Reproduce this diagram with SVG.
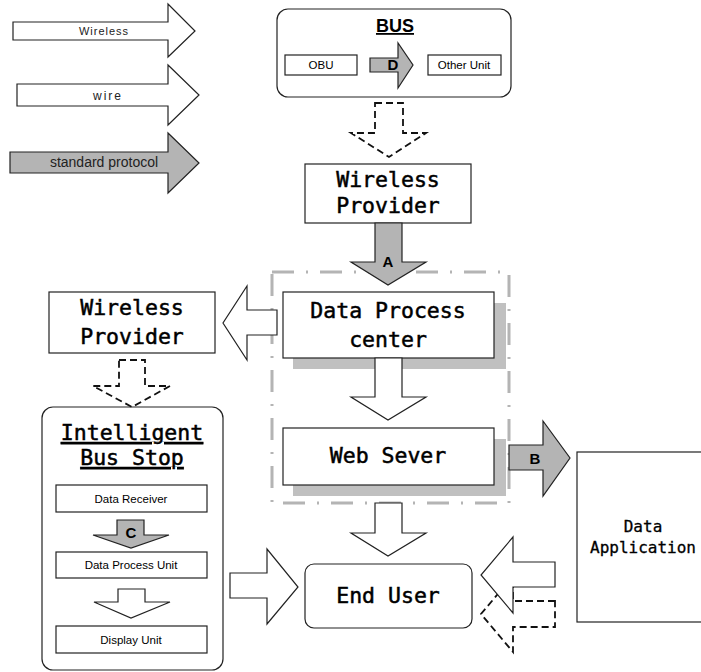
<svg xmlns="http://www.w3.org/2000/svg" width="701" height="672" viewBox="0 0 701 672">
<style>
.box{fill:#fff;stroke:#222;stroke-width:1.2}
.shadow{fill:#c0c0c0;stroke:none}
.arrow{fill:#fff;stroke:#222;stroke-width:1.2;stroke-linejoin:miter}
.garrow{fill:#b4b4b4;stroke:#222;stroke-width:1.2}
.darrow{fill:none;stroke:#111;stroke-width:1.8;stroke-dasharray:7 4}
.big{font-family:"DejaVu Sans Mono","Liberation Mono",monospace;font-size:21.5px;fill:#000;stroke:#000;stroke-width:0.5;text-anchor:middle}
.small{font-family:"Liberation Sans",Arial,sans-serif;font-size:11.5px;fill:#000;text-anchor:middle}
.letter{font-family:"Liberation Sans",Arial,sans-serif;font-size:15px;font-weight:bold;fill:#000;text-anchor:middle}
</style>
<rect width="701" height="672" fill="#fff"/>
<g id="legend">
<polygon class="arrow" points="13,22 168,22 168,4 195,31 168,57 168,40 13,40"/>
<text x="104" y="35" font-family="Liberation Sans,Arial,sans-serif" font-size="11" text-anchor="middle" fill="#222" letter-spacing="1">Wireless</text>
<polygon class="arrow" points="17,84 168,84 168,65 199,95 168,125 168,106 17,106"/>
<text x="108" y="100" font-family="Liberation Sans,Arial,sans-serif" font-size="12" text-anchor="middle" fill="#222" letter-spacing="2">wire</text>
<polygon class="garrow" points="10,152 168,152 168,133 199,163 168,193 168,173 10,173"/>
<text x="104" y="167" font-family="Liberation Sans,Arial,sans-serif" font-size="14" text-anchor="middle" fill="#222">standard protocol</text>
</g>
<g id="frame">
<rect x="272" y="272" width="237" height="231" fill="none" stroke="#b4b4b4" stroke-width="3" stroke-dasharray="22 12 2 12"/>
</g>
<g id="bus">
<rect class="box" x="277" y="9" width="234" height="88" rx="11"/>
<text x="395" y="32" font-family="Liberation Sans,Arial,sans-serif" font-size="18" font-weight="bold" text-anchor="middle" text-decoration="underline">BUS</text>
<g id="obu"><rect class="box" x="285" y="55" width="72" height="20"/><text class="small" x="321" y="69">OBU</text></g>
<g id="other-unit"><rect class="box" x="428" y="55" width="73" height="20"/><text class="small" x="464" y="69">Other Unit</text></g>
</g>
<g id="wireless-provider-top">
<rect class="box" x="305" y="164" width="166" height="59"/>
<text class="big" x="388" y="187">Wireless</text>
<text class="big" x="388" y="213">Provider</text>
</g>
<g id="data-process-center">
<rect class="shadow" x="293" y="303" width="213" height="66"/>
<rect class="box" x="283" y="292" width="211" height="66"/>
<text class="big" x="388" y="318">Data Process</text>
<text class="big" x="388" y="347">center</text>
</g>
<g id="web-sever">
<rect class="shadow" x="293" y="439" width="213" height="57"/>
<rect class="box" x="283" y="428" width="211" height="57"/>
<text class="big" x="388" y="463">Web Sever</text>
</g>
<g id="wireless-provider-left">
<rect class="box" x="49" y="292" width="166" height="61"/>
<text class="big" x="132" y="315">Wireless</text>
<text class="big" x="132" y="344">Provider</text>
</g>
<g id="intelligent-bus-stop">
<rect class="box" x="42" y="407" width="181" height="263" rx="11"/>
<text class="big" x="132" y="440" text-decoration="underline">Intelligent</text>
<text class="big" x="132" y="465" text-decoration="underline">Bus Stop</text>
<g id="data-receiver"><rect class="box" x="56" y="485" width="151" height="27"/><text class="small" x="131" y="503">Data Receiver</text></g>
<g id="data-process-unit"><rect class="box" x="56" y="552" width="151" height="26"/><text class="small" x="131" y="569">Data Process Unit</text></g>
<g id="display-unit"><rect class="box" x="56" y="626" width="151" height="27"/><text class="small" x="131" y="644">Display Unit</text></g>
</g>
<g id="end-user">
<rect class="box" x="305" y="564" width="167" height="64" rx="9"/>
<text class="big" x="388" y="603">End User</text>
</g>
<g id="data-application">
<rect class="box" x="577" y="452" width="130" height="170"/>
<text x="643" y="532" font-family="DejaVu Sans Mono,monospace" font-size="16" text-anchor="middle" stroke="#000" stroke-width="0.3">Data</text>
<text x="643" y="553" font-family="DejaVu Sans Mono,monospace" font-size="16" text-anchor="middle" stroke="#000" stroke-width="0.3">Application</text>
</g>
<g id="connectors">
<polygon class="garrow" points="370,58 398,58 398,43 413,65 398,88 398,72 370,72"/>
<text class="letter" x="393" y="70" font-size="14">D</text>
<polygon class="darrow" points="375,103 403,103 403,133 426,133 389,157 351,133 375,133"/>
<polygon class="garrow" points="375,223 402,223 402,262 426,262 388,285 351,262 375,262"/>
<text class="letter" x="388" y="267">A</text>
<polygon class="arrow" points="277,310 247,310 247,286 223,323 247,360 247,335 277,335"/>
<polygon class="arrow" points="375,358 402,358 402,397 426,397 388,420 351,397 375,397"/>
<polygon class="garrow" points="509,445 543,445 543,421 570,458 543,496 543,470 509,470"/>
<text class="letter" x="535" y="464" font-size="16">B</text>
<polygon class="arrow" points="375,503 402,503 402,533 426,533 388,556 351,533 375,533"/>
<polygon class="arrow" points="230,573 267,573 267,549 298,587 267,624 267,598 230,598"/>
<polygon class="darrow" points="555,601 513,601 513,576 481,614 513,652 513,627 555,627"/>
<polygon class="arrow" points="555,562 513,562 513,537 481,575 513,613 513,587 555,587"/>
<polygon class="darrow" points="119,360 145,360 145,386 170,386 132,407 93,386 119,386"/>
<polygon class="garrow" points="117,520 144,520 144,535 169,535 131,548 93,535 117,535"/>
<text class="letter" x="131" y="538">C</text>
<polygon class="arrow" points="118,589 145,589 145,602 170,602 131,618 94,602 118,602"/>
</g>
</svg>
